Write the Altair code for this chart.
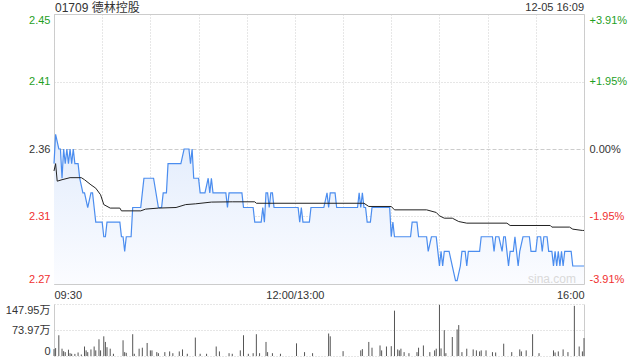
import altair as alt
import pandas as pd

title_text = "01709 德林控股"
stamp_text = "12-05 16:09"
watermark = "sina.com"

# minute index (0 = 09:30, 150 = 12:00/13:00, 330 = 16:00)
price_t = [0, 1, 3, 4, 5, 6, 7, 8, 9, 10, 11, 12, 13, 15, 16, 18, 19, 21, 23, 24, 25, 26, 30, 31, 32, 33,
           41, 42, 43, 44, 45, 48, 49, 54, 55, 56, 62, 65, 67, 68, 70, 71, 79, 81, 84, 85, 86, 87, 90, 91,
           94, 96, 97, 98, 99, 107, 108, 109, 117, 118, 124, 125, 129, 130, 131, 132, 133, 134, 135, 136,
           137, 152, 153, 154, 155, 159, 160, 168, 170, 171, 172, 175, 176, 189, 190, 191, 192, 193, 194,
           195, 197, 198, 209, 210, 211, 212, 222, 223, 226, 227, 232, 233, 235, 238, 239, 240, 241, 242,
           243, 246, 248, 250, 251, 253, 254, 256, 257, 258, 265, 266, 273, 274, 275, 277, 279, 280, 281,
           282, 283, 284, 286, 287, 288, 289, 290, 292, 296, 297, 300, 301, 303, 304, 305, 307, 308, 310,
           311, 312, 313, 314, 315, 316, 317, 318, 322, 323, 330]
price_v = [2.35, 2.37, 2.36, 2.36, 2.34, 2.36, 2.35, 2.36, 2.35, 2.36, 2.35, 2.36, 2.35, 2.35, 2.34, 2.33,
           2.33, 2.32, 2.33, 2.33, 2.32, 2.31, 2.31, 2.30, 2.30, 2.31,
           2.31, 2.30, 2.30, 2.29, 2.30, 2.30, 2.32, 2.32, 2.33, 2.34, 2.34, 2.32, 2.32, 2.33, 2.33, 2.35,
           2.35, 2.36, 2.36, 2.35, 2.36, 2.34, 2.34, 2.33,
           2.33, 2.34, 2.33, 2.34, 2.33, 2.33, 2.32, 2.33, 2.33, 2.32, 2.32, 2.31, 2.31, 2.32, 2.31, 2.33,
           2.33, 2.32, 2.33, 2.33,
           2.32, 2.32, 2.31, 2.32, 2.31, 2.31, 2.32, 2.32, 2.33, 2.32, 2.33, 2.33, 2.32, 2.32, 2.33, 2.32,
           2.33, 2.32, 2.32,
           2.31, 2.31, 2.32, 2.32, 2.30, 2.31, 2.30, 2.30, 2.31, 2.31, 2.30, 2.30, 2.29, 2.30, 2.30, 2.29,
           2.28, 2.29, 2.28,
           2.29, 2.29, 2.28, 2.27, 2.27, 2.28, 2.29, 2.29, 2.28, 2.29, 2.29, 2.30, 2.30, 2.29, 2.30, 2.30,
           2.29, 2.30, 2.30,
           2.29, 2.28, 2.29, 2.29, 2.30, 2.29, 2.28, 2.29, 2.30, 2.30, 2.29, 2.29, 2.30, 2.30, 2.29, 2.30,
           2.30, 2.29, 2.29,
           2.28, 2.29, 2.28, 2.29, 2.28, 2.29, 2.28, 2.29, 2.29, 2.28, 2.28]

avg_t = [0, 1, 2, 5, 10, 17, 19, 23, 26, 29, 31, 35, 41, 42, 54, 57, 65, 76, 82, 88, 98, 111, 125, 126,
         193, 196, 210, 212, 232, 238, 240, 243, 248, 252, 257, 282, 284, 309, 310, 321, 323, 329, 330]
avg_v = [2.345, 2.350, 2.338, 2.339, 2.3404, 2.3404, 2.339, 2.3355, 2.3332, 2.3287, 2.322, 2.3196, 2.3196,
         2.3177, 2.3177, 2.3189, 2.3196, 2.3200, 2.322, 2.3225, 2.3237, 2.3239, 2.3239, 2.3229,
         2.3229, 2.3207, 2.3207, 2.3184, 2.3184, 2.3166, 2.3143, 2.3127, 2.3127, 2.3104, 2.3093, 2.3093,
         2.3077, 2.3077, 2.3066, 2.3066, 2.3052, 2.3043, 2.3043]

# volume in 万 shares
vol_t = [0, 1, 3, 5, 6, 7, 9, 10, 11, 13, 15, 17, 19, 20, 21, 23, 25, 26, 28, 29, 31, 32, 33, 35, 37,
         43, 44, 45, 49, 50, 53, 55, 58, 60, 61, 64, 65, 69, 72, 74, 78, 80, 83, 88, 91, 95, 101, 103,
         109, 111, 116, 118, 121, 124, 126, 128, 132, 133, 136, 141, 151, 156, 161, 171, 172, 180, 191,
         192, 196, 198, 203, 204, 207, 210, 212, 214, 215, 216, 218, 221, 226, 227, 230, 234, 237, 238,
         240, 241, 243, 244, 248, 251, 252, 254, 257, 261, 263, 265, 266, 269, 273, 275, 280, 285, 290,
         291, 294, 298, 302, 311, 312, 314, 317, 320, 324, 327, 329, 330]
vol_v = [19.6, 22.5, 59, 20.8, 13.8, 11, 17.9, 8, 6.3, 6, 10, 4.3, 27, 16, 11, 18.7, 27, 16, 47.6, 16,
         56, 40, 25, 20.8, 6.3, 44.7, 11, 9, 62, 6.3, 20.8, 23.6, 37, 16, 16, 11, 8, 11, 13, 8, 13, 18.7,
         6.3, 52.5, 6.3, 6.3, 27, 13, 8, 6.3, 16, 59, 6.3, 8, 62, 8, 40, 11, 8, 6.3, 36, 11, 8, 64, 56,
         13.8, 16, 19.6, 40, 23.6, 30, 16, 27, 28, 129, 18.7, 16, 20.8, 11, 8, 11, 23.6, 30, 11, 16,
         20.8, 145.6, 21.6, 73.5, 8, 54, 75.5, 88, 11, 20.8, 18.7, 16, 13, 16, 16, 11, 10, 35, 11, 18.7,
         13, 16, 62, 8, 16, 10, 13, 18.7, 11, 142.7, 27, 13, 51]

prev_close = 2.36
y_ticks = [2.2677, 2.314, 2.36, 2.406, 2.4523]
pct_labels = ["-3.91%", "-1.95%", "0.00%", "+1.95%", "+3.91%"]
x_ticks = [0, 30, 60, 90, 120, 150, 180, 210, 240, 270, 300, 330]
x_labels = {0: "09:30", 150: "12:00/13:00", 330: "16:00"}
vol_ticks = [0, 73.97, 147.95]
vol_labels = ["0", "73.97万", "147.95万"]

FONT = "Liberation Sans, Arial, Noto Sans CJK SC, sans-serif"
GREEN = "#1fa01f"
RED = "#f03030"
DARK = "#333333"

price_df = pd.DataFrame({"t": price_t, "p": price_v})
avg_df = pd.DataFrame({"t": avg_t, "p": avg_v})
vol_df = pd.DataFrame({"t": vol_t, "v": vol_v})

x_expr = " : ".join(f"datum.value == {k} ? '{v}'" for k, v in x_labels.items()) + " : ''"
pct_expr = ""
for i, lab in enumerate(pct_labels):
    if i < len(pct_labels) - 1:
        pct_expr += f"datum.value < {(y_ticks[i] + y_ticks[i + 1]) / 2:.4f} ? '{lab}' : "
    else:
        pct_expr += f"'{lab}'"
vol_expr = ""
for i, lab in enumerate(vol_labels):
    if i < len(vol_labels) - 1:
        vol_expr += f"datum.value < {(vol_ticks[i] + vol_ticks[i + 1]) / 2:.3f} ? '{lab}' : "
    else:
        vol_expr += f"'{lab}'"

color_expr = {"expr": f"datum.value > {prev_close + 0.01} ? '{GREEN}' : datum.value < {prev_close - 0.01} ? '{RED}' : '{DARK}'"}
dash_expr = {"expr": f"abs(datum.value - {prev_close}) < 0.001 ? [4, 2] : [1, 2]"}

x_scale = alt.Scale(domain=[0, 330], nice=False, zero=False)
y_scale = alt.Scale(domain=[y_ticks[0], y_ticks[-1]], nice=False, zero=False)

x_axis = alt.Axis(values=x_ticks, labelExpr=x_expr, title=None, grid=True, gridColor="#cfcfcf",
                  gridDash=[1, 2], ticks=False, domain=False, labelFlush=True, labelPadding=5,
                  labelFont=FONT, labelFontSize=11, labelColor=DARK, labelOverlap=False)

base = alt.Chart(price_df)

area = base.mark_area(
    color=alt.Gradient(gradient="linear",
                       stops=[alt.GradientStop(color="#fbfcff", offset=0),
                              alt.GradientStop(color="#e2ecfc", offset=1)],
                       x1=1, x2=1, y1=1, y2=0),
    interpolate="linear",
).encode(
    x=alt.X("t:Q", scale=x_scale, axis=x_axis),
    y=alt.Y("p:Q", scale=y_scale,
            axis=alt.Axis(values=y_ticks, labelExpr="format(datum.value, '.2f')", title=None,
                          grid=True, gridColor="#cccccc", gridDash=dash_expr, ticks=False, domain=False,
                          labelFlush=True, labelPadding=4, labelFont=FONT, labelFontSize=11,
                          labelColor=color_expr, orient="left")),
    y2=alt.datum(y_ticks[0]),
)

line = base.mark_line(color="#4b8def", strokeWidth=1.2).encode(
    x=alt.X("t:Q", scale=x_scale),
    y=alt.Y("p:Q", scale=y_scale),
)

avg = alt.Chart(avg_df).mark_line(color="#222222", strokeWidth=1).encode(
    x=alt.X("t:Q", scale=x_scale),
    y=alt.Y("p:Q", scale=y_scale,
            axis=alt.Axis(values=y_ticks, labelExpr=pct_expr, title=None, grid=False, ticks=False,
                          domain=False, labelFlush=True, labelPadding=5, labelFont=FONT,
                          labelFontSize=11, labelColor=color_expr, orient="right")),
)

text_df = pd.DataFrame({"a": [title_text], "b": [stamp_text], "c": [watermark]})
title_mark = alt.Chart(text_df).mark_text(align="left", baseline="middle", font=FONT, fontSize=12,
                                          color=DARK).encode(
    x=alt.value(1), y=alt.value(-6), text="a:N")
stamp_mark = alt.Chart(text_df).mark_text(align="right", baseline="middle", font=FONT, fontSize=11,
                                          color=DARK).encode(
    x=alt.value(530), y=alt.value(-6), text="b:N")
wm_mark = alt.Chart(text_df).mark_text(align="center", baseline="middle", font=FONT, fontSize=12,
                                       color="#d9d9d9").encode(
    x=alt.value(498), y=alt.value(265), text="c:N")

price_lines = alt.layer(area, line)
price_chart = alt.layer(price_lines, avg, title_mark, stamp_mark, wm_mark).resolve_scale(
    y="independent").properties(width=530, height=270,
                                view=alt.ViewBackground(stroke="#cccccc", strokeWidth=1))

vol_scale = alt.Scale(domain=[0, vol_ticks[-1]], nice=False, zero=True)
bars = alt.Chart(vol_df).mark_rule(color="#555555", strokeWidth=1).encode(
    x=alt.X("t:Q", scale=x_scale, axis=None),
    y=alt.Y("v:Q", scale=vol_scale,
            axis=alt.Axis(values=vol_ticks, labelExpr=vol_expr, title=None, grid=True,
                          gridColor="#cccccc", gridDash=[1, 2], ticks=False, domain=True,
                          domainColor="#cccccc", labelFlush=True, labelPadding=4, labelFont=FONT,
                          labelFontSize=11, labelColor=DARK, orient="left")),
    y2=alt.datum(0),
)
right_edge = alt.Chart(vol_df).mark_rule(opacity=0).encode(
    x=alt.X("t:Q", scale=x_scale, axis=None),
    y=alt.Y("v:Q", scale=vol_scale,
            axis=alt.Axis(labels=False, title=None, grid=False, ticks=False, domain=True,
                          domainColor="#cccccc", orient="right")),
)
vol_chart = alt.layer(bars, right_edge).resolve_scale(y="independent").properties(
    width=530, height=52, view=alt.ViewBackground(stroke="transparent"))

chart = alt.vconcat(price_chart, vol_chart, spacing=20, bounds="flush").properties(
    autosize=alt.AutoSizeParams(type="none"),
    padding={"left": 54, "top": 14, "right": 56, "bottom": 346},
    background="white",
)

chart.save("out.html", embed_options={"renderer": "svg", "actions": False})
